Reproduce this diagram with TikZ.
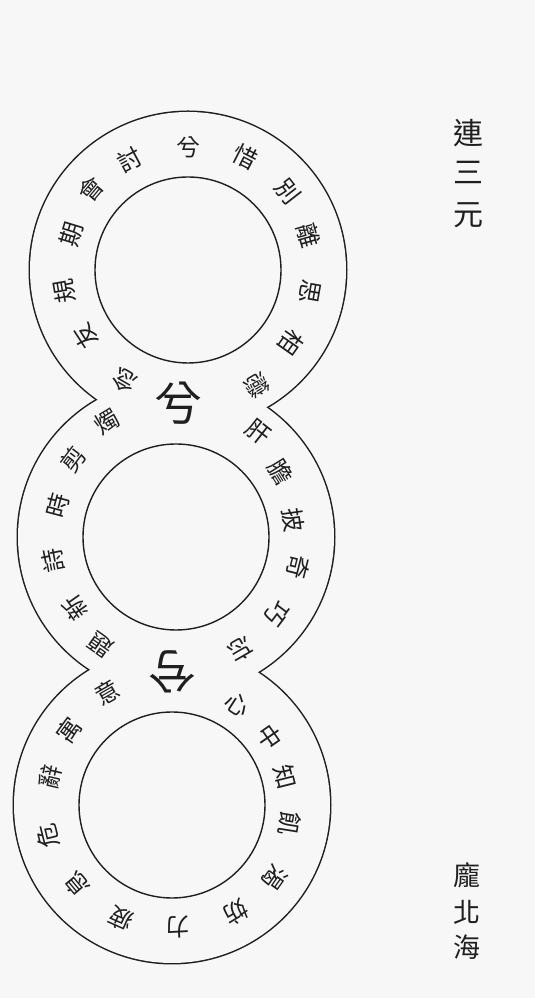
\documentclass[tikz,border=0pt]{standalone}
\usepackage{fontspec}
\usepackage{tikz}
\newfontfamily\cjk{Noto Sans CJK TC}
\definecolor{paper}{gray}{0.97}
\definecolor{ink}{gray}{0.12}

\begin{document}
\begin{tikzpicture}[x=1pt,y=1pt]
	\fill[paper] (0,0) rectangle (535,998);
	\useasboundingbox (0,0) rectangle (535,998);
	\coordinate (top) at (188,728);
	\coordinate (mid) at (176,461);
	\coordinate (bot) at (172,193);
	% outer outline: thick circles, then paper over the inner halves
	\foreach \c in {top,mid,bot}
		{\draw[color=ink,line width=3pt] (\c) circle (158pt);};
	\foreach \c in {top,mid,bot}
		{\fill[paper] (\c) circle (158pt);};
	\foreach \c in {top,mid,bot}
		{\draw[color=ink,line width=1.4pt] (\c) circle (93pt);};
	% words round the rings, tops pointing outwards
	\foreach \a/\r/\t [count=\i] in {240/128/念,213/122/友,190/125/規,163/122/期,140/126/會,118/125/討,90/123/兮,63/127/惜,38/127/別,16/125/離,-10/124/思,-35/126/相,-59/135/戀}
		{\draw (top) ++ (\a:\r pt) node[inner sep=0pt,rotate=\a-90,text=ink] (t\i) {\cjk\fontsize{24}{24}\selectfont\t};};
	\foreach \a/\r/\t [count=\i] in {121/134/燭,143/129/剪,165/122/時,191/125/詩,215/123/新,235/132/題,52/133/肝,32/123/膽,8/118/披,-14/126/奇,-37/126/巧,-60/130/忘}
		{\draw (mid) ++ (\a:\r pt) node[inner sep=0pt,rotate=\a-90,text=ink] (m\i) {\cjk\fontsize{24}{24}\selectfont\t};};
	\foreach \a/\r/\t [count=\i] in {120/130/意,144/127/寓,167/125/辭,194/128/危,220/124/息,246/125/疲,273/122/力,301/125/妨,325/126/渴,351/119/飢,14/117/知,35/119/中,57/120/心}
		{\draw (bot) ++ (\a:\r pt) node[inner sep=0pt,rotate=\a-90,text=ink] (b\i) {\cjk\fontsize{24}{24}\selectfont\t};};
	% the two big ones between the rings
	\node[inner sep=0pt,text=ink] (xi1) at (178,595) {\cjk\fontsize{48}{48}\selectfont 兮};
	\node[inner sep=0pt,text=ink,rotate=180] (xi2) at (172,326) {\cjk\fontsize{48}{48}\selectfont 兮};
	% title and author
	\foreach \y/\t [count=\i] in {865/連,826/三,783/元}
		{\node[inner sep=0pt,text=ink] (title\i) at (468,\y) {\cjk\fontsize{30}{30}\selectfont\t};};
	\foreach \y/\t [count=\i] in {123/龐,86/北,51/海}
		{\node[inner sep=0pt,text=ink] (name\i) at (467,\y) {\cjk\fontsize{27}{27}\selectfont\t};};
\end{tikzpicture}
\end{document}
